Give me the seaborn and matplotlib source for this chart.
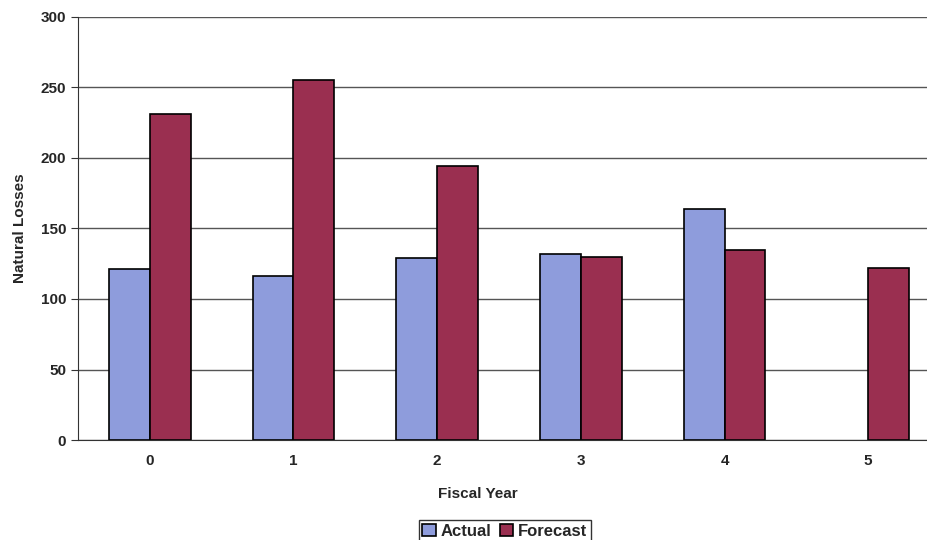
import numpy as np
import pandas as pd
import matplotlib
matplotlib.use("Agg")
import matplotlib.pyplot as plt
import seaborn as sns

# data
years = ["0", "1", "2", "3", "4", "5"]
actual = [121, 116, 129, 132, 164, np.nan]
forecast = [231, 255, 194, 130, 135, 122]

df = pd.DataFrame({
    "Fiscal Year": years * 2,
    "Natural Losses": actual + forecast,
    "Series": ["Actual"] * len(years) + ["Forecast"] * len(years),
})

sns.set_style("white")
plt.rcParams["font.family"] = ["Liberation Sans", "DejaVu Sans"]
plt.rcParams["font.weight"] = "bold"

fig = plt.figure(figsize=(9.28, 5.4), dpi=100)
# plot area runs past the right edge, as in the source picture
ax = fig.add_axes([0.084, 0.185, 0.929, 0.784])

sns.barplot(
    data=df,
    x="Fiscal Year",
    y="Natural Losses",
    hue="Series",
    palette={"Actual": "#8E9CDC", "Forecast": "#9A2F50"},
    saturation=1,
    edgecolor="black",
    linewidth=1.2,
    width=0.57,
    ax=ax,
)

ax.set_ylim(0, 300)
ax.set_xlim(-0.5, 5.5)
ax.set_yticks(np.arange(0, 301, 50))
ax.yaxis.grid(True, color="#555555", linewidth=1)
ax.set_axisbelow(True)

for side in ["top", "right"]:
    ax.spines[side].set_visible(False)
ax.spines["left"].set_color("#333333")
ax.spines["bottom"].set_color("#333333")

ax.tick_params(axis="x", which="major", length=0, pad=10, labelsize=11)
ax.set_xticks(np.arange(-0.5, 5.6, 1), minor=True)
ax.tick_params(axis="x", which="minor", length=5, direction="out", color="#333333")
ax.tick_params(axis="y", length=5, direction="out", color="#333333", labelsize=11, left=True)

ax.set_xlabel("Fiscal Year", fontsize=11, fontweight="bold")
ax.xaxis.set_label_coords(0.464, -0.11)
ax.set_ylabel("Natural Losses", fontsize=11, fontweight="bold", labelpad=10)

ax.legend(
    loc="upper center",
    bbox_to_anchor=(0.495, -0.17),
    ncol=2,
    frameon=True,
    fancybox=False,
    edgecolor="black",
    handlelength=0.8,
    handleheight=0.8,
    handletextpad=0.3,
    columnspacing=0.5,
    borderpad=0.2,
    prop={"size": 12, "weight": "bold"},
)

fig.savefig("out.png", dpi=100)
